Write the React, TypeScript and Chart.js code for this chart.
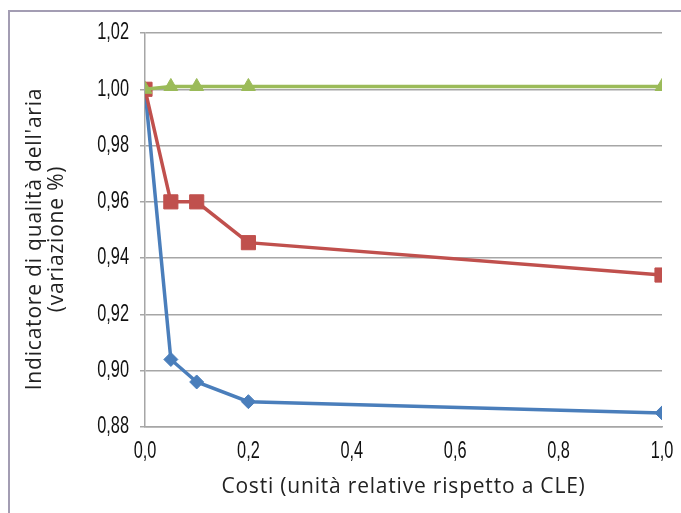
import React, { useEffect, useRef } from "react";
import { Chart, registerables } from "chart.js";

Chart.register(...registerables);

const costs = [0, 0.05, 0.1, 0.2, 1.0];
const blueSeries = [1.0, 0.904, 0.896, 0.889, 0.885];
const redSeries = [1.0, 0.96, 0.96, 0.9455, 0.934];
const greenSeries = [1.0, 1.001, 1.001, 1.001, 1.001];
const yTitleLines = ["Indicatore di qualità dell'aria", "(variazione %)"];
const xTitle = "Costi (unità relative rispetto a CLE)";

const toPoints = (ys: number[]) => costs.map((x, i) => ({ x, y: ys[i] }));

const titleFont = "21px 'Open Sans', sans-serif";
const tickFont = "23px 'Liberation Sans', 'DejaVu Sans', sans-serif";
const squeeze = 0.71;

const fmtX = (v: number) => v.toFixed(1).replace(".", ",");
const fmtY = (v: number) => v.toFixed(2).replace(".", ",");

const textPlugin = {
  id: "textPlugin",
  afterDraw(chart: any) {
    const { ctx, chartArea, scales } = chart;
    ctx.save();
    ctx.fillStyle = "#111";
    ctx.font = tickFont;
    ctx.textBaseline = "middle";
    ctx.textAlign = "right";
    scales.y.ticks.forEach((t: any) => {
      const py = scales.y.getPixelForValue(t.value);
      ctx.save();
      ctx.translate(chartArea.left - 16, py);
      ctx.scale(squeeze, 1);
      ctx.fillText(fmtY(t.value), 0, 0);
      ctx.restore();
    });
    ctx.textAlign = "center";
    scales.x.ticks.forEach((t: any) => {
      const px = scales.x.getPixelForValue(t.value);
      ctx.save();
      ctx.translate(px, chartArea.bottom + 25);
      ctx.scale(squeeze, 1);
      ctx.fillText(fmtX(t.value), 0, 0);
      ctx.restore();
    });
    ctx.fillStyle = "#222";
    ctx.font = titleFont;
    (ctx as any).letterSpacing = "0.8px";
    const cx = (chartArea.left + chartArea.right) / 2;
    ctx.fillText(xTitle, cx, 487);
    ctx.translate(35, 239);
    ctx.rotate(-Math.PI / 2);
    yTitleLines.forEach((line, i) => ctx.fillText(line, 0, i * 22));
    ctx.restore();
  },
};

export default function App() {
  const ref = useRef<HTMLCanvasElement | null>(null);
  useEffect(() => {
    if (!ref.current) return;
    const chart = new Chart(ref.current, {
      type: "line",
      data: {
        datasets: [
          {
            label: "A",
            data: toPoints(blueSeries),
            borderColor: "#4a7ebb",
            backgroundColor: "#4a7ebb",
            borderWidth: 3.5,
            pointStyle: "rectRot",
            pointRadius: 7,
            pointBorderWidth: 1,
            order: 2,
          },
          {
            label: "B",
            data: toPoints(redSeries),
            borderColor: "#c0504d",
            backgroundColor: "#c0504d",
            borderWidth: 3.5,
            pointStyle: "rect",
            pointRadius: 10,
            pointBorderWidth: 1,
            order: 1,
          },
          {
            label: "C",
            data: toPoints(greenSeries),
            borderColor: "#9bbb59",
            backgroundColor: "#9bbb59",
            borderWidth: 3.5,
            pointStyle: "triangle",
            pointRadius: 8,
            pointBorderWidth: 1,
            order: 0,
          },
        ],
      },
      options: {
        animation: false,
        responsive: false,
        layout: { padding: { top: 33, right: 19, bottom: 0, left: 0 } },
        plugins: { legend: { display: false }, tooltip: { enabled: false } },
        scales: {
          x: {
            type: "linear",
            min: 0,
            max: 1,
            ticks: { stepSize: 0.2, display: false },
            grid: { display: false, drawTicks: false },
            border: { display: true, color: "#a6a6a6", width: 1.5 },
            afterFit: (s: any) => {
              s.height = 86;
            },
          },
          y: {
            type: "linear",
            min: 0.88,
            max: 1.02,
            ticks: { stepSize: 0.02, display: false },
            grid: { color: "#a6a6a6", lineWidth: 1.5, tickLength: 5 },
            border: { display: true, color: "#a6a6a6", width: 1.5 },
            afterFit: (s: any) => {
              s.width = 145;
            },
          },
        },
      },
      plugins: [textPlugin],
    });
    return () => chart.destroy();
  }, []);
  return (
    <div style={{ position: "fixed", left: 0, top: 0, width: 681, height: 513, background: "#fff" }}>
      <div
        style={{
          position: "absolute",
          left: 8,
          top: 10,
          width: 700,
          height: 600,
          borderLeft: "2px solid #a39db3",
          borderTop: "2px solid #a39db3",
        }}
      />
      <canvas ref={ref} width={681} height={513} style={{ position: "absolute", left: 0, top: 0 }} />
    </div>
  );
}
